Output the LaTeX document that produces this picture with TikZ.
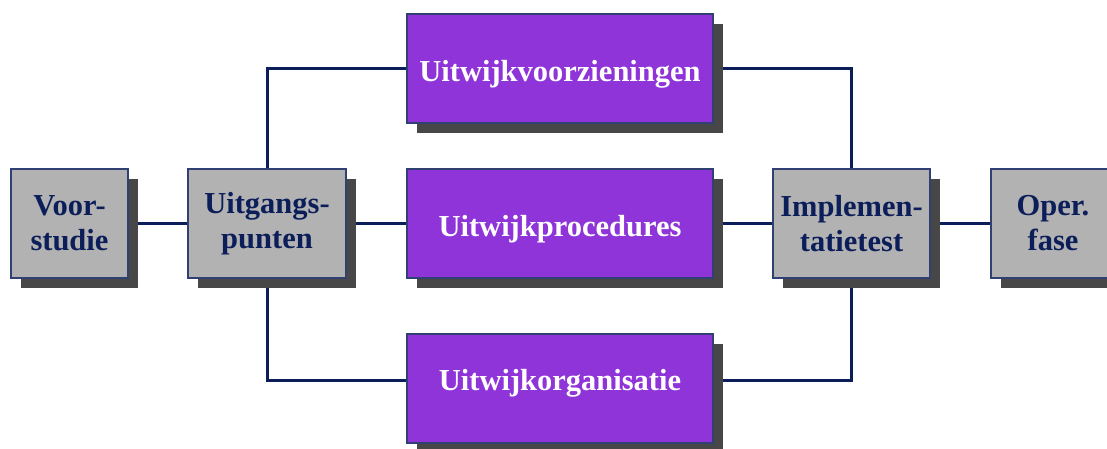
\documentclass[tikz,border=0pt]{standalone}
\usepackage{fontspec}
\setmainfont{Liberation Serif}
\usetikzlibrary{shadows,backgrounds}

\definecolor{navyblue}{RGB}{12,30,90}
\definecolor{boxgray}{RGB}{178,178,178}
\definecolor{partpurple}{RGB}{143,52,216}
\definecolor{shadowgray}{RGB}{71,71,71}

\begin{document}
\begin{tikzpicture}[x=1pt, y=-1pt, font=\fontsize{30.5}{35}\selectfont\bfseries,
  box/.style={draw=navyblue!85, line width=1.2pt, minimum height=109pt, inner sep=0pt, align=center,
    drop shadow={shadow xshift=10pt, shadow yshift=-10pt, fill=shadowgray, opacity=1}},
  phase/.style={box, fill=boxgray, text=navyblue},
  part/.style={box, fill=partpurple, text=white, minimum width=306pt, text height=25pt, text depth=0pt},
  link/.style={draw=navyblue, line width=3pt}]
  \useasboundingbox (0,0) rectangle (1107,448);
  % phases of the project, left to right
  \node[phase, minimum width=117pt] (voor) at (69.5,223.5) {Voor-\\studie};
  \node[phase, minimum width=158pt] (uitg) at (267,223.5) {Uitgangs-\\punten};
  \node[phase, minimum width=157pt] (impl) at (851.5,223.5) {Implemen-\\tatietest};
  \node[phase, minimum width=124pt] (oper) at (1053,223.5) {Oper.\\fase};
  % the three parallel parts
  \node[part] (voorz) at (560,68.5) {Uitwijkvoorzieningen};
  \node[part] (proc) at (560,223.5) {Uitwijkprocedures};
  \node[part, text height=21pt, text depth=17pt] (org) at (560,388.5) {Uitwijkorganisatie};
  \coordinate (orgline) at ([yshift=8.5pt]org.center);
  % connectors under the boxes
  \begin{scope}[on background layer]
    \draw[link] (voor.center) -- (uitg.center) -- (proc.center) -- (impl.center) -- (oper.center);
    \draw[link] (uitg.center) |- (voorz.center) -| (impl.center);
    \draw[link] (uitg.center) |- (orgline) -| (impl.center);
  \end{scope}
\end{tikzpicture}
\end{document}
